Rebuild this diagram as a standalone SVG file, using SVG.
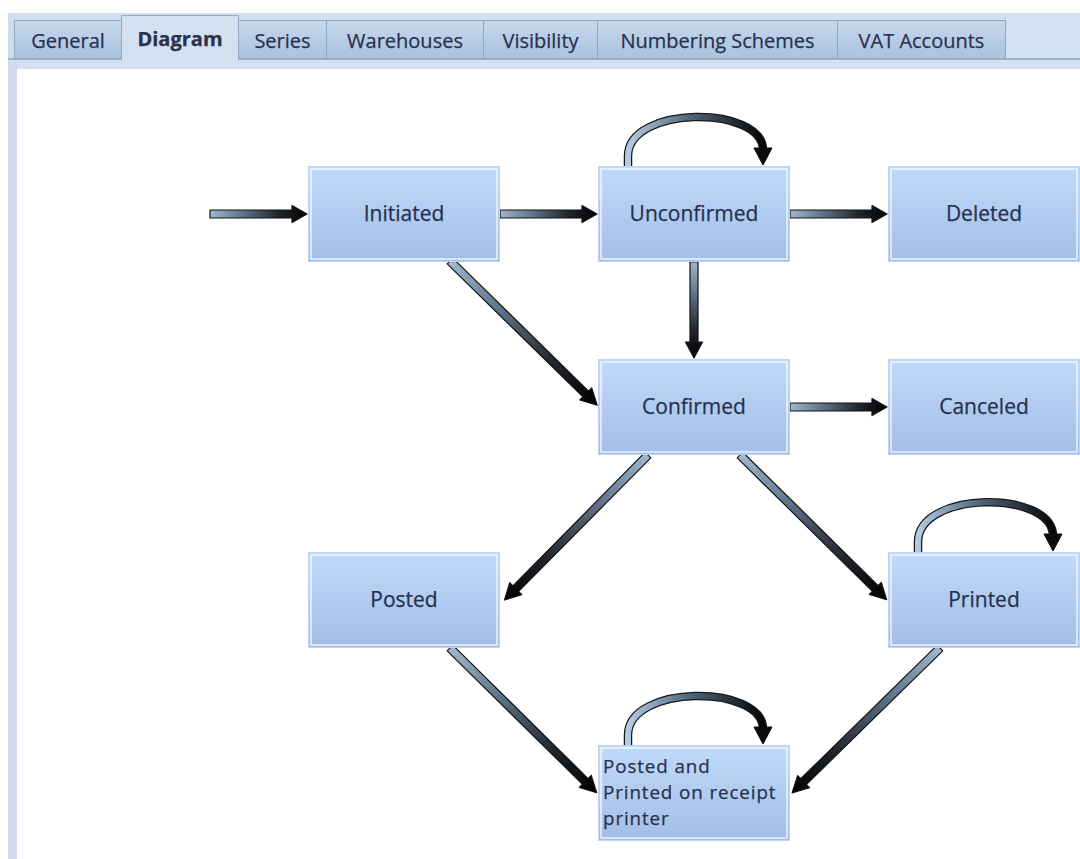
<svg xmlns="http://www.w3.org/2000/svg" width="1080" height="859" viewBox="0 0 1080 859">
<defs>
<linearGradient id="nodeFill" x1="0" y1="0" x2="0" y2="1">
<stop offset="0" stop-color="#c0dafa"/>
<stop offset="1" stop-color="#a2bee6"/>
</linearGradient>
<linearGradient id="tabFill" x1="0" y1="0" x2="0" y2="1">
<stop offset="0" stop-color="#c6d8ec"/>
<stop offset="1" stop-color="#a9c2de"/>
</linearGradient>
<linearGradient id="arrowFill" x1="0" y1="0" x2="1" y2="0">
<stop offset="0" stop-color="#a0b7cd"/>
<stop offset="0.3" stop-color="#667b90"/>
<stop offset="0.7" stop-color="#22272c"/>
<stop offset="1" stop-color="#000"/>
</linearGradient>
<linearGradient id="loopFill" x1="0" y1="0" x2="1" y2="0">
<stop offset="0" stop-color="#b4cce2"/>
<stop offset="0.45" stop-color="#53677c"/>
<stop offset="1" stop-color="#050607"/>
</linearGradient>
<style>
.tab{fill:url(#tabFill);stroke:#8ea8c6;stroke-width:1}
.tabtxt{font-family:"Open Sans","DejaVu Sans",sans-serif;font-size:20px;fill:#28314f;stroke:#28314f;stroke-width:0.25;text-anchor:middle}
.node{fill:url(#nodeFill);stroke:#bcd5f5;stroke-width:1}
.inner{fill:none;stroke:#ffffff;stroke-width:1.2}
.lbl{font-family:"Open Sans","DejaVu Sans",sans-serif;font-size:21px;fill:#28304f;stroke:#28304f;stroke-width:0.25;text-anchor:middle}
.lbl2{font-family:"Open Sans","DejaVu Sans",sans-serif;font-size:18.8px;letter-spacing:0.9px;fill:#28304f;stroke:#28304f;stroke-width:0.25}
.arr{fill:url(#arrowFill);stroke:#101215;stroke-width:1.2;stroke-linejoin:round}
.loopo{fill:none;stroke:#15181c;stroke-width:8.5}
.loopi{fill:none;stroke:url(#loopFill);stroke-width:6}
.head{fill:#0a0b0d;stroke:#0a0b0d;stroke-width:1;stroke-linejoin:round}
</style>
</defs>
<rect x="0" y="0" width="1080" height="859" fill="#ffffff"/>
<rect x="8" y="13" width="1072" height="56" fill="#d3e0f0"/>
<rect x="8" y="13" width="9" height="846" fill="#d0dcee"/>
<line x1="8" y1="59" x2="1080" y2="59" stroke="#8ea8c6" stroke-width="1.5"/>
<rect x="17" y="69" width="1063" height="790" fill="#ffffff"/>
<g id="tabs">
<rect class="tab" x="14.5" y="20.5" width="107" height="38"/>
<text class="tabtxt" x="68" y="48">General</text>
<rect class="tab" x="238.5" y="20.5" width="88" height="38"/>
<text class="tabtxt" x="282.5" y="48">Series</text>
<rect class="tab" x="326.5" y="20.5" width="157" height="38"/>
<text class="tabtxt" x="405" y="48">Warehouses</text>
<rect class="tab" x="483.5" y="20.5" width="114" height="38"/>
<text class="tabtxt" x="540.5" y="48">Visibility</text>
<rect class="tab" x="597.5" y="20.5" width="240" height="38"/>
<text class="tabtxt" x="717.5" y="48">Numbering Schemes</text>
<rect class="tab" x="837.5" y="20.5" width="168" height="38"/>
<text class="tabtxt" x="921.5" y="48">VAT Accounts</text>
<path d="M121.5,60 L121.5,15.5 L238.5,15.5 L238.5,60" fill="#d3e0f0" stroke="#8ea8c6" stroke-width="1"/>
<text class="tabtxt" x="180" y="46" font-weight="bold">Diagram</text>
</g>
<g id="connectors">
<g id="e-start" transform="translate(210,214)"><polygon class="arr" points="0,-4 82,-4 82,-8.5 97,0 82,8.5 82,4 0,4"/></g>
<g id="e-init-unc" transform="translate(500,214)"><polygon class="arr" points="0,-4 82,-4 82,-8.5 97,0 82,8.5 82,4 0,4"/></g>
<g id="e-unc-del" transform="translate(790,214)"><polygon class="arr" points="0,-4 82,-4 82,-8.5 97,0 82,8.5 82,4 0,4"/></g>
<g id="e-conf-canc" transform="translate(790,407)"><polygon class="arr" points="0,-4 82,-4 82,-8.5 97,0 82,8.5 82,4 0,4"/></g>
<g id="e-unc-conf" transform="translate(694,262) rotate(90)"><polygon class="arr" points="0,-4 80,-4 80,-8.5 96,0 80,8.5 80,4 0,4"/></g>
<g id="e-init-conf" transform="translate(450,261) rotate(44.4)"><polygon class="arr" points="0,-4 190,-4 190,-8.5 206,0 190,8.5 190,4 0,4"/></g>
<g id="e-conf-posted" transform="translate(648,455) rotate(134.7)"><polygon class="arr" points="0,-4 188,-4 188,-8.5 204,0 188,8.5 188,4 0,4"/></g>
<g id="e-conf-printed" transform="translate(740,455) rotate(44.6)"><polygon class="arr" points="0,-4 190,-4 190,-8.5 206,0 190,8.5 190,4 0,4"/></g>
<g id="e-posted-ppr" transform="translate(450,648) rotate(44.6)"><polygon class="arr" points="0,-4 190,-4 190,-8.5 206,0 190,8.5 190,4 0,4"/></g>
<g id="e-printed-ppr" transform="translate(940,648) rotate(135.6)"><polygon class="arr" points="0,-4 191,-4 191,-8.5 207,0 191,8.5 191,4 0,4"/></g>
<g id="loop-unc">
<path class="loopo" d="M628,167 L628,156 C628,105 763,105 763,150"/>
<path class="loopi" d="M628,167 L628,156 C628,105 763,105 763,150"/>
<polygon class="head" points="754,148 772,148 763,165"/>
</g>
<g id="loop-printed">
<path class="loopo" d="M918,553 L918,542 C918,490 1053,490 1053,536"/>
<path class="loopi" d="M918,553 L918,542 C918,490 1053,490 1053,536"/>
<polygon class="head" points="1044,534 1062,534 1053,551"/>
</g>
<g id="loop-ppr">
<path class="loopo" d="M628,746 L628,735 C628,684 763,684 763,729"/>
<path class="loopi" d="M628,746 L628,735 C628,684 763,684 763,729"/>
<polygon class="head" points="754,727 772,727 763,744"/>
</g>
</g>
<g id="n-initiated">
<rect class="node" x="308.5" y="166.5" width="191" height="95"/>
<rect class="inner" x="311" y="169" width="186" height="90"/>
<text class="lbl" x="404" y="221">Initiated</text>
</g>
<g id="n-unconfirmed">
<rect class="node" x="598.5" y="166.5" width="191" height="95"/>
<rect class="inner" x="601" y="169" width="186" height="90"/>
<text class="lbl" x="694" y="221">Unconfirmed</text>
</g>
<g id="n-deleted">
<rect class="node" x="888.5" y="166.5" width="191" height="95"/>
<rect class="inner" x="891" y="169" width="186" height="90"/>
<text class="lbl" x="984" y="221">Deleted</text>
</g>
<g id="n-confirmed">
<rect class="node" x="598.5" y="359.5" width="191" height="95"/>
<rect class="inner" x="601" y="362" width="186" height="90"/>
<text class="lbl" x="694" y="414">Confirmed</text>
</g>
<g id="n-canceled">
<rect class="node" x="888.5" y="359.5" width="191" height="95"/>
<rect class="inner" x="891" y="362" width="186" height="90"/>
<text class="lbl" x="984" y="414">Canceled</text>
</g>
<g id="n-posted">
<rect class="node" x="308.5" y="552.5" width="191" height="95"/>
<rect class="inner" x="311" y="555" width="186" height="90"/>
<text class="lbl" x="404" y="607">Posted</text>
</g>
<g id="n-printed">
<rect class="node" x="888.5" y="552.5" width="191" height="95"/>
<rect class="inner" x="891" y="555" width="186" height="90"/>
<text class="lbl" x="984" y="607">Printed</text>
</g>
<g id="n-posted-printed">
<rect class="node" x="598.5" y="745.5" width="191" height="95"/>
<rect class="inner" x="601" y="748" width="186" height="90"/>
<text class="lbl2" x="603" y="773">Posted and</text>
<text class="lbl2" x="603" y="799">Printed on receipt</text>
<text class="lbl2" x="603" y="825">printer</text>
</g>
</svg>
